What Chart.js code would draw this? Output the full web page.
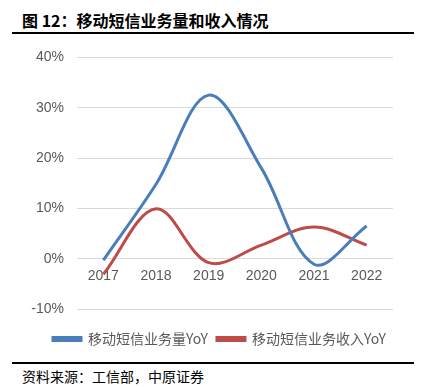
<!DOCTYPE html>
<html>
<head>
<meta charset="utf-8">
<script src="https://cdn.jsdelivr.net/npm/chart.js@4.4.1/dist/chart.umd.min.js"></script>
<style>
  html, body { margin: 0; padding: 0; background: #fff; }
  body { width: 421px; height: 387px; position: relative; overflow: hidden; }
  .title { position: absolute; left: 22px; top: 8px; font: bold 16px "Noto Sans CJK SC", sans-serif; color: #000; }
  .rule { position: absolute; left: 12px; width: 402px; height: 2px; background: #000; }
  .source { position: absolute; left: 22px; top: 366px; font: 14px "Noto Sans CJK SC", sans-serif; color: #000; }
  #chart { position: absolute; left: 0; top: 36px; }
</style>
</head>
<body>
<div class="title">图 12：移动短信业务量和收入情况</div>
<div class="rule" style="top:32px"></div>
<canvas id="chart" width="421" height="320"></canvas>
<div class="rule" style="top:362px"></div>
<div class="source">资料来源：工信部，中原证券</div>
<script>
// data (percent)
const years = ['2017', '2018', '2019', '2020', '2021', '2022'];
const volumeYoY = [-0.3, 14.8, 32.5, 18.0, -1.1, 6.5];
const revenueYoY = [-3.1, 9.9, -0.8, 2.7, 6.3, 2.7];
const seriesNames = ['移动短信业务量YoY', '移动短信业务收入YoY'];

const tickFont = { family: '"Liberation Sans", Arial, sans-serif', size: 14 };

// the y axis is narrow so the legend can sit where it does; widen its label clip area
const unclipYLabels = {
    id: 'unclipYLabels',
    afterLayout: function(chart) {
        chart.scales.y.left = 0;
    }
};

const ctx = document.getElementById('chart').getContext('2d');
const chart = new Chart(ctx, {
    type: 'line',
    data: {
        labels: years,
        datasets: [{
            label: seriesNames[0],
            data: volumeYoY,
            borderColor: '#4a7ebb',
            backgroundColor: '#4a7ebb',
            borderWidth: 3,
            pointRadius: 0,
            tension: 0.35
        }, {
            label: seriesNames[1],
            data: revenueYoY,
            borderColor: '#be4b48',
            backgroundColor: '#be4b48',
            borderWidth: 3,
            pointRadius: 0,
            tension: 0.35
        }]
    },
    options: {
        responsive: false,
        animation: false,
        devicePixelRatio: 1,
        layout: { padding: { top: 8, left: 44, right: 0, bottom: 0 } },
        plugins: {
            tooltip: { enabled: false },
            legend: {
                position: 'bottom',
                align: 'start',
                title: { display: true, text: '', font: { size: 10 }, padding: { top: 2, bottom: 0 } },
                labels: {
                    boxWidth: 28,
                    boxHeight: 3,
                    padding: 9,
                    color: '#595959',
                    font: { family: '"Noto Sans CJK SC", sans-serif', size: 14 }
                }
            }
        },
        scales: {
            x: {
                position: { y: 0 },
                offset: true,
                grid: { display: false, drawTicks: false },
                border: { display: false },
                ticks: { color: '#595959', font: tickFont, padding: 9, maxRotation: 0 }
            },
            y: {
                min: -10,
                max: 40,
                afterFit: function(scale) { scale.width = 33; },
                grid: { color: '#d9d9d9', lineWidth: 1, drawTicks: false },
                border: { display: false },
                ticks: {
                    stepSize: 10,
                    color: '#595959',
                    font: tickFont,
                    padding: 13,
                    callback: function(v) { return v + '%'; }
                }
            },
            y2: {
                position: 'right',
                afterFit: function(scale) { scale.width = 28; },
                grid: { display: false },
                border: { display: false },
                ticks: { display: false }
            }
        }
    },
    plugins: [unclipYLabels]
});
</script>
</body>
</html>
